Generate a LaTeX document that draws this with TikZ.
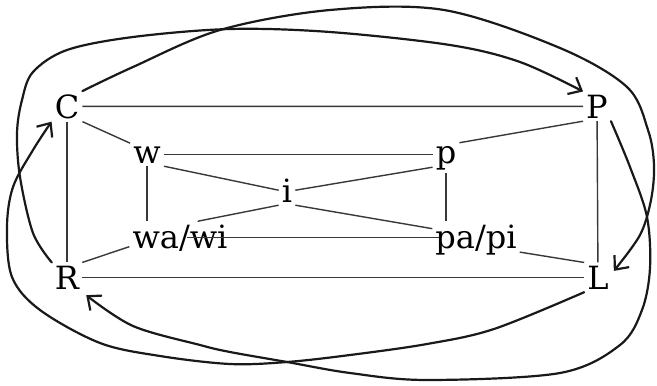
\documentclass[tikz,border=0pt]{standalone}
\usepackage{fontspec}
\setmainfont{DejaVu Serif}
\usetikzlibrary{arrows.meta}
\begin{document}
\begin{tikzpicture}[x=1pt,y=-1pt,
  lbl/.style={font=\fontsize{32}{36}\selectfont, inner sep=3pt, anchor=base},
  edge/.style={line width=1.4pt, draw=black!78},
  loopline/.style={line width=2.2pt, draw=black!90, line cap=round, line join=round,
    -{Straight Barb[length=11pt,width=19pt,line width=2.2pt]}}
]
\useasboundingbox (0,0) rectangle (657,386);
% nodes
\node[lbl] (C) at (67,118) {C};
\node[lbl] (P) at (597,118) {P};
\node[lbl] (R) at (67,289) {R};
\node[lbl] (L) at (598,289) {L};
\node[lbl] (w) at (147,163) {w};
\node[lbl] (p) at (446,163) {p};
\node[lbl] (i) at (287,202) {i};
\node[lbl] (wa) at (180,248) {wa/wi};
\node[lbl] (pa) at (476,248) {pa/pi};
% straight connectors
\draw[edge] (C) -- (P);
\draw[edge] (C) -- (R);
\draw[edge] (P) -- (L);
\draw[edge] (R) -- (L);
\draw[edge] (C.south east) -- (w.north west);
\draw[edge] (P.south west) -- (p.north east);
\draw[edge] (R.north east) -- (wa.190);
\draw[edge] (L.north west) -- (pa.-16);
\draw[edge] (w.east) -- (w.east -| p.west);
\draw[edge] (w.south) -- (w.south |- wa.north);
\draw[edge] (p.south) -- (p.south |- pa.north);
\draw[edge] ([xshift=7pt]wa.center) -- ([xshift=7pt]wa.center -| pa.west);
\draw[edge] (w.south east) -- (i.west);
\draw[edge] (i.south east) -- (pa.166);
\draw[edge] (p.215) -- (i.east);
\draw[edge] (i.south west) -- (wa.43);
% looping arrows
\draw[loopline] plot[smooth, tension=0.55] coordinates {(C.north east) (133,67) (220,30) (330,10) (444,10) (560,48) (627,87) (648,130) (654,165) (651,200) (640,235) ([xshift=2pt]L.25)};
\draw[loopline] plot[smooth, tension=0.55] coordinates {(P.south east) (630,167) (647,217) (650,268) (642,310) (620,345) (560,373) (427,380) (350,373) (287,362) (230,352) (200,345) (133,326) ([xshift=4pt,yshift=-3pt]R.south east)};
\draw[loopline] plot[smooth, tension=0.55] coordinates {(R.north west) (33,233) (20,177) (17,133) (22,100) (33,72) (67,50) (133,37) (230,29) (330,32) (450,45) (520,62) (P.north west)};
\draw[loopline] plot[smooth, tension=0.55] coordinates {(L.south west) (494,329) (427,344) (350,355) (287,362) (230,364) (160,356) (100,343) (40,310) (12,277) (7,227) (13,187) (33,150) (C.south west)};
\end{tikzpicture}
\end{document}
